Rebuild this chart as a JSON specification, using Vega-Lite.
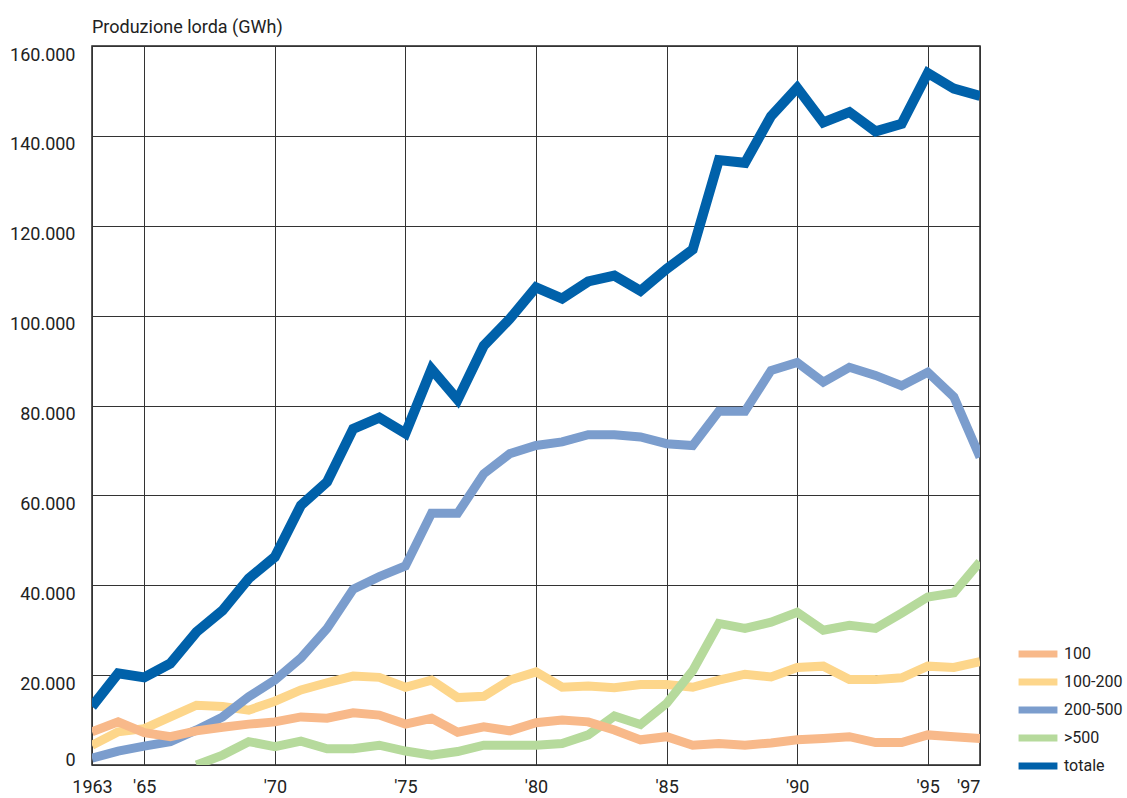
{
  "$schema": "https://vega.github.io/schema/vega-lite/v6.json",
  "width": 888,
  "height": 719,
  "autosize": {"type": "none"},
  "padding": {"left": 92, "top": 46, "right": 147, "bottom": 33},
  "background": "white",
  "title": {
    "text": "Produzione lorda (GWh)",
    "anchor": "start",
    "frame": "group",
    "font": "Roboto, 'Liberation Sans', sans-serif",
    "fontSize": 18,
    "fontWeight": "normal",
    "color": "#222222",
    "offset": 9
  },
  "config": {
    "view": {"stroke": "#222222", "strokeWidth": 1.5},
    "font": "Roboto, 'Liberation Sans', sans-serif"
  },
  "data": {
    "values": [
      {"anno": 1963, "serie": "100-200", "gwh": 4400},
      {"anno": 1964, "serie": "100-200", "gwh": 7400},
      {"anno": 1965, "serie": "100-200", "gwh": 8100},
      {"anno": 1966, "serie": "100-200", "gwh": 10700},
      {"anno": 1967, "serie": "100-200", "gwh": 13300},
      {"anno": 1968, "serie": "100-200", "gwh": 13000},
      {"anno": 1969, "serie": "100-200", "gwh": 12200},
      {"anno": 1970, "serie": "100-200", "gwh": 14200},
      {"anno": 1971, "serie": "100-200", "gwh": 16700},
      {"anno": 1972, "serie": "100-200", "gwh": 18300},
      {"anno": 1973, "serie": "100-200", "gwh": 19800},
      {"anno": 1974, "serie": "100-200", "gwh": 19500},
      {"anno": 1975, "serie": "100-200", "gwh": 17300},
      {"anno": 1976, "serie": "100-200", "gwh": 18900},
      {"anno": 1977, "serie": "100-200", "gwh": 15000},
      {"anno": 1978, "serie": "100-200", "gwh": 15300},
      {"anno": 1979, "serie": "100-200", "gwh": 18900},
      {"anno": 1980, "serie": "100-200", "gwh": 20700},
      {"anno": 1981, "serie": "100-200", "gwh": 17300},
      {"anno": 1982, "serie": "100-200", "gwh": 17600},
      {"anno": 1983, "serie": "100-200", "gwh": 17200},
      {"anno": 1984, "serie": "100-200", "gwh": 17900},
      {"anno": 1985, "serie": "100-200", "gwh": 17900},
      {"anno": 1986, "serie": "100-200", "gwh": 17300},
      {"anno": 1987, "serie": "100-200", "gwh": 18900},
      {"anno": 1988, "serie": "100-200", "gwh": 20200},
      {"anno": 1989, "serie": "100-200", "gwh": 19600},
      {"anno": 1990, "serie": "100-200", "gwh": 21700},
      {"anno": 1991, "serie": "100-200", "gwh": 22000},
      {"anno": 1992, "serie": "100-200", "gwh": 19000},
      {"anno": 1993, "serie": "100-200", "gwh": 19000},
      {"anno": 1994, "serie": "100-200", "gwh": 19400},
      {"anno": 1995, "serie": "100-200", "gwh": 22000},
      {"anno": 1996, "serie": "100-200", "gwh": 21700},
      {"anno": 1997, "serie": "100-200", "gwh": 23000},

      {"anno": 1963, "serie": "200-500", "gwh": 1500},
      {"anno": 1964, "serie": "200-500", "gwh": 3100},
      {"anno": 1965, "serie": "200-500", "gwh": 4200},
      {"anno": 1966, "serie": "200-500", "gwh": 5200},
      {"anno": 1967, "serie": "200-500", "gwh": 7800},
      {"anno": 1968, "serie": "200-500", "gwh": 10700},
      {"anno": 1969, "serie": "200-500", "gwh": 15200},
      {"anno": 1970, "serie": "200-500", "gwh": 18900},
      {"anno": 1971, "serie": "200-500", "gwh": 23800},
      {"anno": 1972, "serie": "200-500", "gwh": 30400},
      {"anno": 1973, "serie": "200-500", "gwh": 39100},
      {"anno": 1974, "serie": "200-500", "gwh": 41900},
      {"anno": 1975, "serie": "200-500", "gwh": 44300},
      {"anno": 1976, "serie": "200-500", "gwh": 56000},
      {"anno": 1977, "serie": "200-500", "gwh": 56000},
      {"anno": 1978, "serie": "200-500", "gwh": 64800},
      {"anno": 1979, "serie": "200-500", "gwh": 69300},
      {"anno": 1980, "serie": "200-500", "gwh": 71100},
      {"anno": 1981, "serie": "200-500", "gwh": 71900},
      {"anno": 1982, "serie": "200-500", "gwh": 73500},
      {"anno": 1983, "serie": "200-500", "gwh": 73500},
      {"anno": 1984, "serie": "200-500", "gwh": 73000},
      {"anno": 1985, "serie": "200-500", "gwh": 71500},
      {"anno": 1986, "serie": "200-500", "gwh": 71100},
      {"anno": 1987, "serie": "200-500", "gwh": 78700},
      {"anno": 1988, "serie": "200-500", "gwh": 78700},
      {"anno": 1989, "serie": "200-500", "gwh": 87800},
      {"anno": 1990, "serie": "200-500", "gwh": 89600},
      {"anno": 1991, "serie": "200-500", "gwh": 85200},
      {"anno": 1992, "serie": "200-500", "gwh": 88500},
      {"anno": 1993, "serie": "200-500", "gwh": 86700},
      {"anno": 1994, "serie": "200-500", "gwh": 84400},
      {"anno": 1995, "serie": "200-500", "gwh": 87400},
      {"anno": 1996, "serie": "200-500", "gwh": 81900},
      {"anno": 1997, "serie": "200-500", "gwh": 68500},

      {"anno": 1967, "serie": ">500", "gwh": 0},
      {"anno": 1968, "serie": ">500", "gwh": 2200},
      {"anno": 1969, "serie": ">500", "gwh": 5200},
      {"anno": 1970, "serie": ">500", "gwh": 4100},
      {"anno": 1971, "serie": ">500", "gwh": 5300},
      {"anno": 1972, "serie": ">500", "gwh": 3600},
      {"anno": 1973, "serie": ">500", "gwh": 3600},
      {"anno": 1974, "serie": ">500", "gwh": 4400},
      {"anno": 1975, "serie": ">500", "gwh": 3100},
      {"anno": 1976, "serie": ">500", "gwh": 2200},
      {"anno": 1977, "serie": ">500", "gwh": 3000},
      {"anno": 1978, "serie": ">500", "gwh": 4400},
      {"anno": 1979, "serie": ">500", "gwh": 4400},
      {"anno": 1980, "serie": ">500", "gwh": 4400},
      {"anno": 1981, "serie": ">500", "gwh": 4800},
      {"anno": 1982, "serie": ">500", "gwh": 6700},
      {"anno": 1983, "serie": ">500", "gwh": 10900},
      {"anno": 1984, "serie": ">500", "gwh": 9000},
      {"anno": 1985, "serie": ">500", "gwh": 13700},
      {"anno": 1986, "serie": ">500", "gwh": 21000},
      {"anno": 1987, "serie": ">500", "gwh": 31500},
      {"anno": 1988, "serie": ">500", "gwh": 30400},
      {"anno": 1989, "serie": ">500", "gwh": 31800},
      {"anno": 1990, "serie": ">500", "gwh": 34000},
      {"anno": 1991, "serie": ">500", "gwh": 30000},
      {"anno": 1992, "serie": ">500", "gwh": 31100},
      {"anno": 1993, "serie": ">500", "gwh": 30400},
      {"anno": 1994, "serie": ">500", "gwh": 33800},
      {"anno": 1995, "serie": ">500", "gwh": 37400},
      {"anno": 1996, "serie": ">500", "gwh": 38300},
      {"anno": 1997, "serie": ">500", "gwh": 45200},

      {"anno": 1963, "serie": "100", "gwh": 7400},
      {"anno": 1964, "serie": "100", "gwh": 9600},
      {"anno": 1965, "serie": "100", "gwh": 7200},
      {"anno": 1966, "serie": "100", "gwh": 6300},
      {"anno": 1967, "serie": "100", "gwh": 7600},
      {"anno": 1968, "serie": "100", "gwh": 8400},
      {"anno": 1969, "serie": "100", "gwh": 9100},
      {"anno": 1970, "serie": "100", "gwh": 9600},
      {"anno": 1971, "serie": "100", "gwh": 10700},
      {"anno": 1972, "serie": "100", "gwh": 10400},
      {"anno": 1973, "serie": "100", "gwh": 11600},
      {"anno": 1974, "serie": "100", "gwh": 11100},
      {"anno": 1975, "serie": "100", "gwh": 9100},
      {"anno": 1976, "serie": "100", "gwh": 10400},
      {"anno": 1977, "serie": "100", "gwh": 7300},
      {"anno": 1978, "serie": "100", "gwh": 8500},
      {"anno": 1979, "serie": "100", "gwh": 7600},
      {"anno": 1980, "serie": "100", "gwh": 9400},
      {"anno": 1981, "serie": "100", "gwh": 10000},
      {"anno": 1982, "serie": "100", "gwh": 9600},
      {"anno": 1983, "serie": "100", "gwh": 7800},
      {"anno": 1984, "serie": "100", "gwh": 5600},
      {"anno": 1985, "serie": "100", "gwh": 6300},
      {"anno": 1986, "serie": "100", "gwh": 4400},
      {"anno": 1987, "serie": "100", "gwh": 4800},
      {"anno": 1988, "serie": "100", "gwh": 4400},
      {"anno": 1989, "serie": "100", "gwh": 4900},
      {"anno": 1990, "serie": "100", "gwh": 5600},
      {"anno": 1991, "serie": "100", "gwh": 5900},
      {"anno": 1992, "serie": "100", "gwh": 6300},
      {"anno": 1993, "serie": "100", "gwh": 5000},
      {"anno": 1994, "serie": "100", "gwh": 5000},
      {"anno": 1995, "serie": "100", "gwh": 6700},
      {"anno": 1996, "serie": "100", "gwh": 6300},
      {"anno": 1997, "serie": "100", "gwh": 5900},

      {"anno": 1963, "serie": "totale", "gwh": 13000},
      {"anno": 1964, "serie": "totale", "gwh": 20400},
      {"anno": 1965, "serie": "totale", "gwh": 19500},
      {"anno": 1966, "serie": "totale", "gwh": 22600},
      {"anno": 1967, "serie": "totale", "gwh": 29600},
      {"anno": 1968, "serie": "totale", "gwh": 34400},
      {"anno": 1969, "serie": "totale", "gwh": 41500},
      {"anno": 1970, "serie": "totale", "gwh": 46300},
      {"anno": 1971, "serie": "totale", "gwh": 57800},
      {"anno": 1972, "serie": "totale", "gwh": 63000},
      {"anno": 1973, "serie": "totale", "gwh": 74800},
      {"anno": 1974, "serie": "totale", "gwh": 77300},
      {"anno": 1975, "serie": "totale", "gwh": 73800},
      {"anno": 1976, "serie": "totale", "gwh": 88100},
      {"anno": 1977, "serie": "totale", "gwh": 81300},
      {"anno": 1978, "serie": "totale", "gwh": 93300},
      {"anno": 1979, "serie": "totale", "gwh": 99300},
      {"anno": 1980, "serie": "totale", "gwh": 106300},
      {"anno": 1981, "serie": "totale", "gwh": 103800},
      {"anno": 1982, "serie": "totale", "gwh": 107600},
      {"anno": 1983, "serie": "totale", "gwh": 108900},
      {"anno": 1984, "serie": "totale", "gwh": 105500},
      {"anno": 1985, "serie": "totale", "gwh": 110400},
      {"anno": 1986, "serie": "totale", "gwh": 114700},
      {"anno": 1987, "serie": "totale", "gwh": 134600},
      {"anno": 1988, "serie": "totale", "gwh": 134000},
      {"anno": 1989, "serie": "totale", "gwh": 144400},
      {"anno": 1990, "serie": "totale", "gwh": 150700},
      {"anno": 1991, "serie": "totale", "gwh": 143000},
      {"anno": 1992, "serie": "totale", "gwh": 145300},
      {"anno": 1993, "serie": "totale", "gwh": 141000},
      {"anno": 1994, "serie": "totale", "gwh": 142700},
      {"anno": 1995, "serie": "totale", "gwh": 154000},
      {"anno": 1996, "serie": "totale", "gwh": 150500},
      {"anno": 1997, "serie": "totale", "gwh": 148900}
    ]
  },
  "encoding": {
    "x": {
      "field": "anno",
      "type": "quantitative",
      "scale": {"domain": [1963, 1997], "nice": false, "zero": false},
      "axis": {
        "title": null,
        "values": [1963, 1965, 1970, 1975, 1980, 1985, 1990, 1995, 1997],
        "labelExpr": "datum.value == 1963 ? '1963' : \"'\" + format(datum.value % 100, '02d')",
        "domain": false,
        "ticks": false,
        "grid": true,
        "gridColor": "#333333",
        "gridWidth": 1,
        "labelFontSize": 18,
        "labelColor": "#222222",
        "labelPadding": 13,
        "labelBaseline": "top",
        "labelFlush": false,
        "labelOverlap": false,
        "labelAlign": {"condition": {"test": "datum.value == 1997", "value": "right"}, "value": "center"}
      }
    },
    "y": {
      "field": "gwh",
      "type": "quantitative",
      "scale": {"domain": [0, 160000], "nice": false},
      "axis": {
        "title": null,
        "values": [0, 20000, 40000, 60000, 80000, 100000, 120000, 140000, 160000],
        "labelExpr": "replace(format(datum.value, ','), ',', '.')",
        "domain": false,
        "ticks": false,
        "grid": true,
        "gridColor": "#333333",
        "gridWidth": 1,
        "labelFontSize": 18,
        "labelColor": "#222222",
        "labelPadding": 17,
        "labelFlush": false,
        "labelOverlap": false,
        "labelBaseline": {"condition": {"test": "datum.value == 0", "value": "alphabetic"}, "value": "middle"},
        "labelOffset": {"condition": {"test": "datum.value == 0", "value": 0}, "value": 9}
      }
    },
    "color": {
      "field": "serie",
      "type": "nominal",
      "scale": {
        "domain": ["100", "100-200", "200-500", ">500", "totale"],
        "range": ["#F8B98A", "#FDD68B", "#7B9DCD", "#B6DA9C", "#0061AA"]
      },
      "legend": {
        "orient": "none",
        "legendX": 938,
        "legendY": 600,
        "title": null,
        "symbolType": "M-5.5,0H5.5",
        "symbolStrokeWidth": 7,
        "symbolSize": 50,
        "labelFontSize": 16,
        "labelColor": "#222222",
        "labelOffset": 18,
        "rowPadding": 0
      }
    }
  },
  "layer": [
    {"transform": [{"filter": "datum.serie === '100-200'"}], "mark": {"type": "line", "strokeWidth": 9, "strokeJoin": "miter", "strokeCap": "butt", "clip": true}},
    {"transform": [{"filter": "datum.serie === '200-500'"}], "mark": {"type": "line", "strokeWidth": 9, "strokeJoin": "miter", "strokeCap": "butt", "clip": true}},
    {"transform": [{"filter": "datum.serie === '>500'"}], "mark": {"type": "line", "strokeWidth": 9, "strokeJoin": "miter", "strokeCap": "butt", "clip": true}},
    {"transform": [{"filter": "datum.serie === '100'"}], "mark": {"type": "line", "strokeWidth": 9, "strokeJoin": "miter", "strokeCap": "butt", "clip": true}},
    {"transform": [{"filter": "datum.serie === 'totale'"}], "mark": {"type": "line", "strokeWidth": 10, "strokeJoin": "miter", "strokeCap": "butt", "clip": true}}
  ]
}
